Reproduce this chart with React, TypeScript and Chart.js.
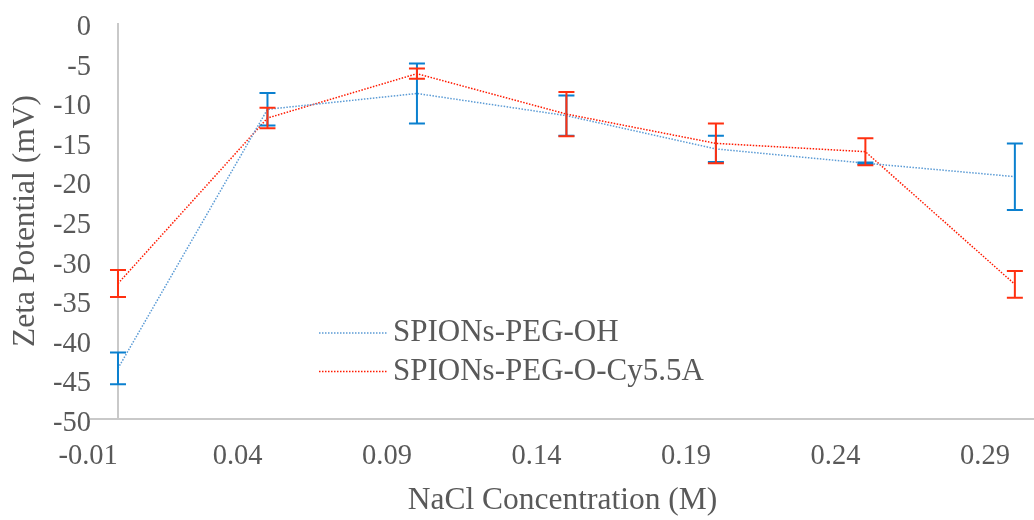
import { useEffect, useRef } from 'react';
import { Chart, registerables } from 'chart.js';

Chart.register(...registerables);

// NaCl concentration (M) of each measurement
const concentrations = [0, 0.05, 0.1, 0.15, 0.2, 0.25, 0.3];

// Zeta potential (mV) and standard deviation, SPIONs-PEG-OH
const pegOhValues = [-43.6, -10.9, -8.9, -11.7, -15.9, -17.7, -19.4];
const pegOhErrors = [2.0, 2.05, 3.8, 2.55, 1.65, 0.1, 4.2];

// Zeta potential (mV) and standard deviation, SPIONs-PEG-O-Cy5.5A
const cy55Values = [-32.9, -12.0, -6.4, -11.5, -15.2, -16.25, -33.0];
const cy55Errors = [1.7, 1.3, 0.65, 2.8, 2.5, 1.7, 1.7];

const seriesLabels = ['SPIONs-PEG-OH', 'SPIONs-PEG-O-Cy5.5A'];
const xTickValues = [-0.01, 0.04, 0.09, 0.14, 0.19, 0.24, 0.29];
const yTickValues = [0, -5, -10, -15, -20, -25, -30, -35, -40, -45, -50];

const FONT = '"Liberation Serif", "Times New Roman", serif';
const TEXT = '#595959';
const AXIS = '#c9c9c9';

const lineColors = ['#5b9bd5', '#ff1a00'];
const errorColors = ['#0b80cf', '#ff3010'];
const errorSeries = [pegOhErrors, cy55Errors];

// Vertical axis line crossing the horizontal axis at x = 0
const zeroAxisPlugin = {
  id: 'zeroAxis',
  beforeDatasetsDraw(chart: any) {
    const { ctx, chartArea, scales } = chart;
    const px = scales.x.getPixelForValue(0);
    ctx.save();
    ctx.strokeStyle = AXIS;
    ctx.lineWidth = 2;
    ctx.beginPath();
    ctx.moveTo(px, chartArea.top);
    ctx.lineTo(px, chartArea.bottom);
    ctx.stroke();
    ctx.restore();
  },
};

// Capped error bars for every point
const errorBarPlugin = {
  id: 'errorBars',
  afterDatasetsDraw(chart: any) {
    const { ctx, scales } = chart;
    chart.data.datasets.forEach((ds: any, i: number) => {
      const errs = errorSeries[i];
      ctx.save();
      ctx.strokeStyle = errorColors[i];
      ctx.lineWidth = 2;
      ds.data.forEach((p: any, j: number) => {
        const px = scales.x.getPixelForValue(p.x);
        const top = scales.y.getPixelForValue(p.y + errs[j]);
        const bot = scales.y.getPixelForValue(p.y - errs[j]);
        ctx.beginPath();
        ctx.moveTo(px, top);
        ctx.lineTo(px, bot);
        ctx.moveTo(px - 8, top);
        ctx.lineTo(px + 8, top);
        ctx.moveTo(px - 8, bot);
        ctx.lineTo(px + 8, bot);
        ctx.stroke();
      });
      ctx.restore();
    });
  },
};

// Legend drawn inside the plot area
const insetLegendPlugin = {
  id: 'insetLegend',
  afterDraw(chart: any) {
    const { ctx } = chart;
    chart.data.datasets.forEach((ds: any, i: number) => {
      const yy = 333 + i * 38.5;
      ctx.save();
      ctx.strokeStyle = ds.borderColor;
      ctx.lineWidth = ds.borderWidth;
      ctx.setLineDash(ds.borderDash);
      ctx.beginPath();
      ctx.moveTo(319, yy);
      ctx.lineTo(387, yy);
      ctx.stroke();
      ctx.setLineDash([]);
      ctx.fillStyle = TEXT;
      ctx.font = `31px ${FONT}`;
      ctx.textAlign = 'left';
      ctx.textBaseline = 'middle';
      ctx.fillText(ds.label, 393, yy);
      ctx.restore();
    });
  },
};

export default function App() {
  const canvasRef = useRef<HTMLCanvasElement | null>(null);

  useEffect(() => {
    const canvas = canvasRef.current;
    if (!canvas) return;

    const valueSets = [pegOhValues, cy55Values];
    const datasets = valueSets.map((vals, i) => ({
      label: seriesLabels[i],
      data: concentrations.map((c, j) => ({ x: c, y: vals[j] })),
      borderColor: lineColors[i],
      backgroundColor: lineColors[i],
      borderWidth: 1.5,
      borderDash: [1.5, 1.5],
      pointRadius: 0,
      pointHoverRadius: 0,
      tension: 0,
      fill: false,
    }));

    const chart = new Chart(canvas, {
      type: 'line',
      data: { datasets },
      plugins: [zeroAxisPlugin, errorBarPlugin, insetLegendPlugin],
      options: {
        animation: false,
        responsive: false,
        layout: { padding: { top: 23, right: 0, bottom: 0, left: 0 } },
        plugins: {
          legend: { display: false },
          tooltip: { enabled: false },
        },
        scales: {
          x: {
            type: 'linear',
            min: -0.00903,
            max: 0.3064,
            afterBuildTicks: (scale: any) => {
              scale.ticks = xTickValues.map((v) => ({ value: v }));
            },
            afterFit: (scale: any) => {
              scale.height = 101;
            },
            ticks: {
              color: TEXT,
              font: { family: FONT, size: 28.5 },
              padding: 20,
              maxRotation: 0,
              autoSkip: false,
              callback: (v: any) => Number(v).toFixed(2),
            },
            grid: { display: false, drawTicks: false },
            border: { display: true, color: AXIS, width: 2 },
            title: {
              display: true,
              text: 'NaCl Concentration (M)',
              color: TEXT,
              font: { family: FONT, size: 31.5 },
              padding: { top: 0, bottom: 0 },
            },
          },
          y: {
            type: 'linear',
            position: 'left',
            min: -50,
            max: 0,
            afterBuildTicks: (scale: any) => {
              scale.ticks = yTickValues.map((v) => ({ value: v }));
            },
            afterFit: (scale: any) => {
              scale.width = 91;
            },
            ticks: {
              color: TEXT,
              // a blank first line drops each value label slightly below its tick
              font: { family: FONT, size: 28.5, lineHeight: '9px' },
              padding: 0,
              autoSkip: false,
              callback: (v: any) => ['', String(v)],
            },
            grid: { display: false, drawTicks: false },
            border: { display: false },
            title: {
              display: true,
              text: 'Zeta Potential (mV)',
              color: TEXT,
              font: { family: FONT, size: 31.5 },
              padding: { top: 7, bottom: 0 },
            },
          },
        },
      },
    } as any);

    return () => chart.destroy();
  }, []);

  return (
    <div style={{ position: 'fixed', left: 0, top: 0, width: 1034, height: 520, background: '#ffffff' }}>
      <canvas ref={canvasRef} width={1034} height={520} style={{ width: 1034, height: 520 }} />
    </div>
  );
}
